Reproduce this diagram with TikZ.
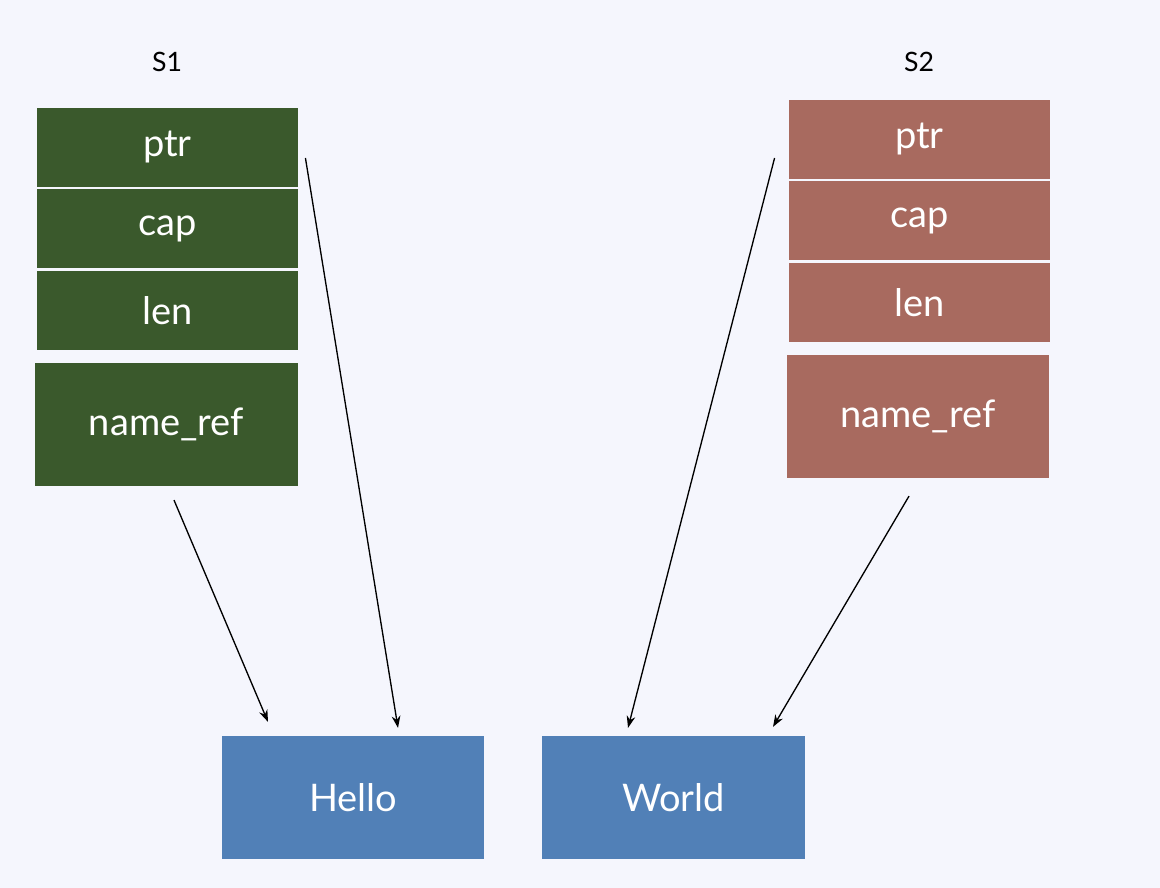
\documentclass[tikz,border=0pt]{standalone}
\usepackage{fontspec}
\setmainfont{Lato}
\usepackage{tikz}
\usetikzlibrary{arrows.meta,calc,positioning}

\definecolor{bgpaper}{RGB}{245,246,253}
\definecolor{cellgreen}{RGB}{58,89,44}
\definecolor{cellred}{RGB}{168,106,95}
\definecolor{strblue}{RGB}{81,128,183}

\begin{document}
\begin{tikzpicture}[
  x=0.75pt, y=-0.75pt,
  cell/.style={rectangle,inner sep=0pt,text=white,
               font=\fontsize{28.5}{32}\selectfont,
               minimum width=196pt,minimum height=59pt},
  greencell/.style={cell,fill=cellgreen},
  redcell/.style={cell,fill=cellred},
  namecell/.style={minimum height=92pt},
  strbox/.style={cell,fill=strblue,minimum height=92pt},
  structlabel/.style={font=\fontsize{20}{23}\selectfont,text=black},
  ptrarrow/.style={-{Stealth[length=9pt,width=6.5pt]},line width=1pt}
]
\fill[bgpaper] (0,0) rectangle (1160,888);
\useasboundingbox (0,0) rectangle (1160,888);

% S1
\node[structlabel] (s1label) at (167,62) {S1};
\node[greencell] (s1ptr)  at (167.5,147.5) {ptr};
\node[greencell] (s1cap)  at (167.5,228.5) {cap};
\node[greencell] (s1len)  at (167.5,310.5) {len};
\node[greencell,namecell,minimum width=197pt] (s1name) at (166.5,424.5) {name\_ref};

% S2
\node[structlabel] (s2label) at (919,62) {S2};
\node[redcell] (s2ptr)  at (919.5,139.5) {ptr};
\node[redcell] (s2cap)  at (919.5,220.5) {cap};
\node[redcell] (s2len)  at (919.5,302.5) {len};
\node[redcell,namecell,minimum width=197pt] (s2name) at (918,416.5) {name\_ref};

% heap strings
\node[strbox] (hello) at (353,797.5) {Hello};
\node[strbox,minimum width=197pt] (world) at (673.5,797.5) {World};

\draw[ptrarrow] ([shift={(7.5,14)}]s1name.south) -- ([shift={(-85,-14)}]hello.north);
\draw[ptrarrow] ([shift={(7,10.5)}]s1ptr.east) -- ([shift={(45,-8)}]hello.north);
\draw[ptrarrow] ([shift={(-14,18.5)}]s2ptr.west) -- ([shift={(-45.5,-8)}]world.north);
\draw[ptrarrow] ([shift={(-9,18)}]s2name.south) -- ([shift={(99.5,-9)}]world.north);
\end{tikzpicture}
\end{document}
